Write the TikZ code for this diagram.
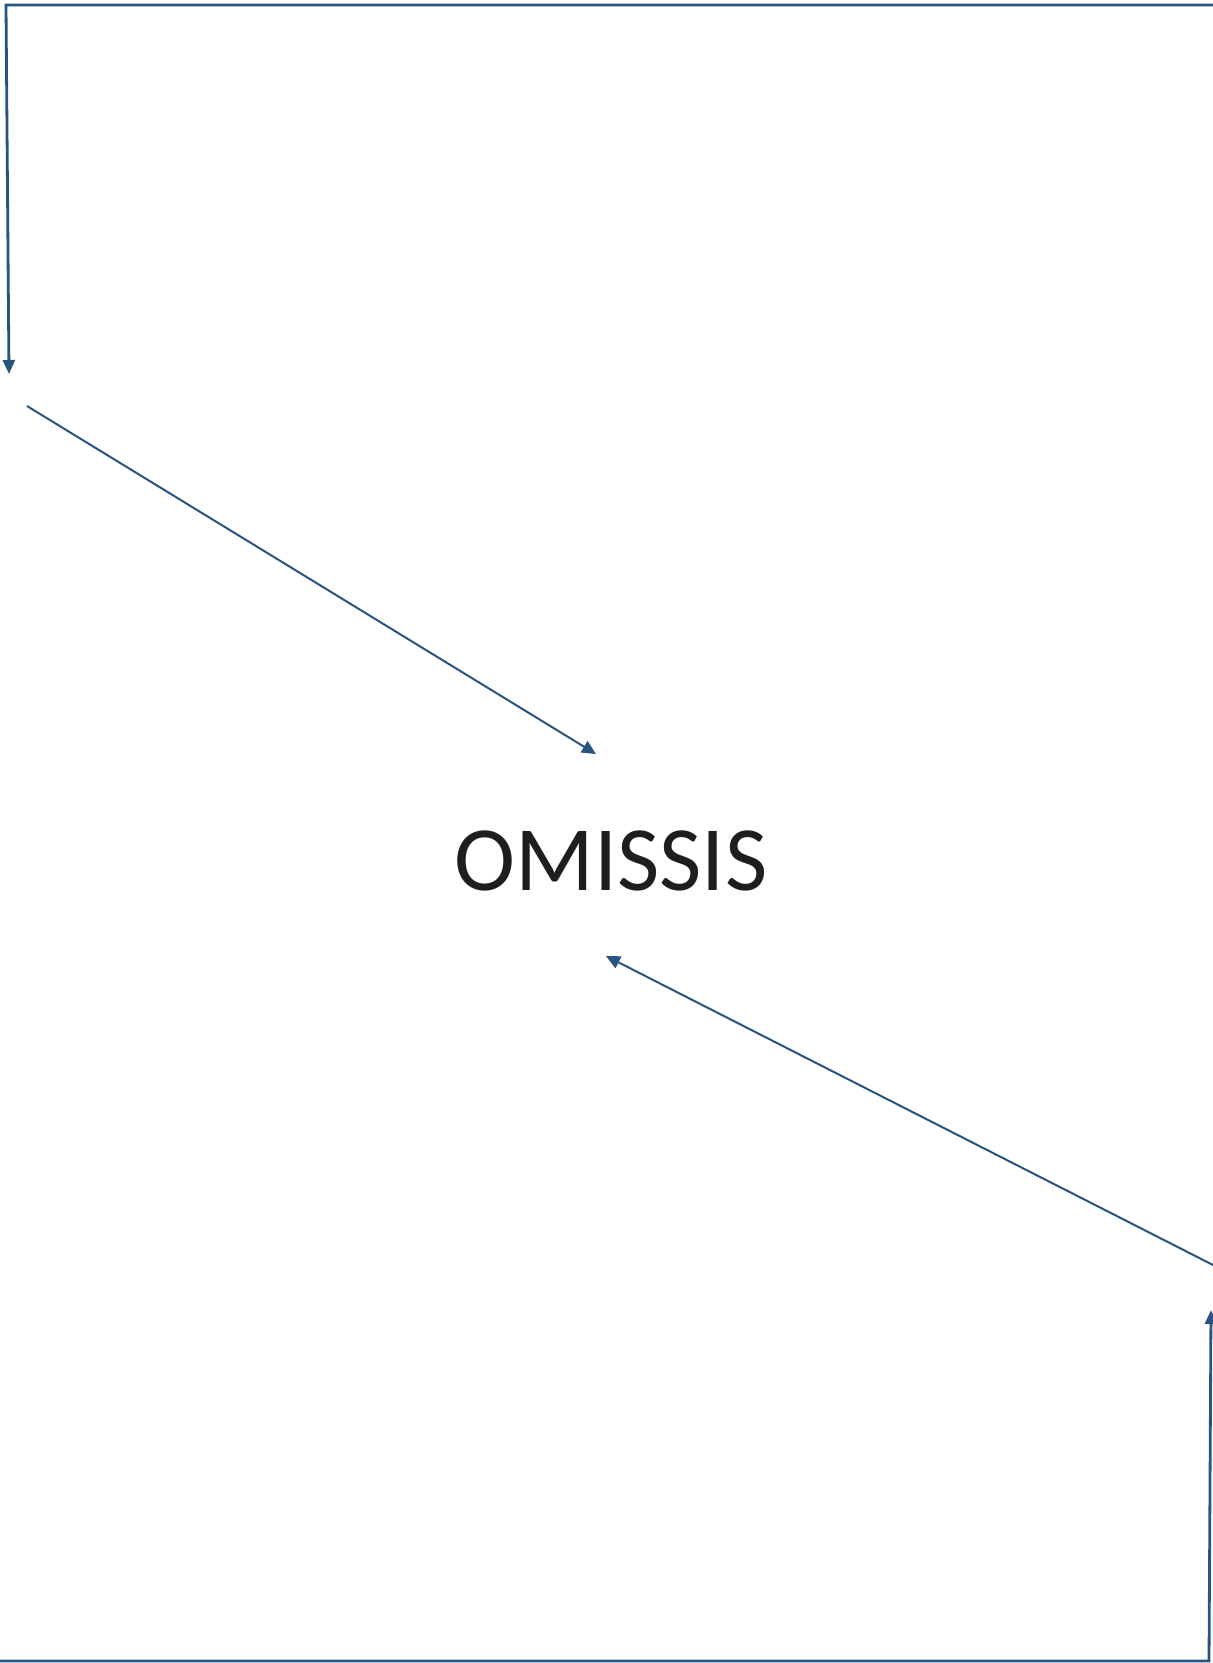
\documentclass[tikz,border=0pt]{standalone}
\usepackage{fontspec}
\setmainfont{Carlito}
\usetikzlibrary{arrows.meta}
\definecolor{lineblue}{RGB}{42,84,128}
\definecolor{textgray}{RGB}{30,30,30}
\begin{document}
\begin{tikzpicture}[x=1pt,y=-1pt,
  conn/.style={draw=lineblue,line width=2pt,-{Triangle[length=14pt,width=13pt]}},
  frame/.style={draw=lineblue,line width=2.8pt,-{Triangle[length=14pt,width=12pt]}}]
\useasboundingbox (0,0) rectangle (1213,1663);
\fill[white] (0,0) rectangle (1213,1663);
% coordinates
\coordinate (tr) at (1213,5);
\coordinate (tl) at (6,5);
\coordinate (a1) at (9,374);
\coordinate (d1s) at (27,406);
\coordinate (d1e) at (596,754);
\coordinate (d2s) at (1215,1266);
\coordinate (d2e) at (606,956);
\coordinate (bl) at (0,1661);
\coordinate (br) at (1209,1661);
\coordinate (a2) at (1211,1310);
% text
\node[text=textgray,font=\fontsize{92}{100}\selectfont,inner sep=0pt] (omissis) at (611,861) {OMISSIS};
% connectors
\draw[frame] (tr) -- (tl) -- (a1);
\draw[conn] (d1s) -- (d1e);
\draw[conn] (d2s) -- (d2e);
\draw[frame] (bl) -- (br) -- (a2);
\end{tikzpicture}
\end{document}
